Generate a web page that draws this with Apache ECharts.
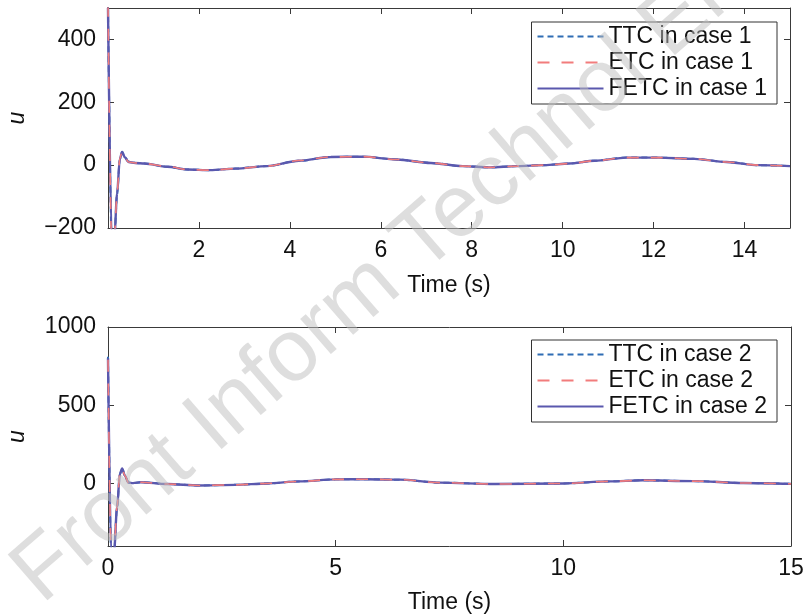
<!DOCTYPE html>
<html>
<head>
<meta charset="utf-8">
<script src="https://cdn.jsdelivr.net/npm/echarts@6/dist/echarts.min.js"></script>
<style>
  html, body { margin: 0; padding: 0; background: #fff; }
  #chart { width: 810px; height: 616px; }
</style>
</head>
<body>
<div id="chart"></div>
<script>
// Case 1: control input u over time
const time1 = [0, 0.08, 0.14, 0.2, 0.26, 0.31, 0.37, 0.45, 0.6, 0.8, 1.3, 1.75, 2.25, 2.8, 3.5, 4.2, 4.9, 5.6, 6.35, 7.1, 7.8, 8.4, 9.0, 9.6, 10.15, 10.7, 11.4, 12.1, 12.9, 13.6, 14.3, 15];
const ttc1  = [505, -235, -232, -92, 18, 43, 26, 11, 7, 5, -5, -14, -16, -11, -3, 14, 26, 27, 18, 7, -3, -7, -3, 0, 5, 14, 24, 24, 20, 10, 0, -3];
const etc1  = [510, -240, -228, -88, 21, 44, 25, 10, 7, 5, -4, -14, -16, -11, -3, 15, 26, 27, 18, 7, -3, -7, -3, 0, 5, 14, 24, 24, 20, 10, 0, -3];
const fetc1 = [500, -230, -230, -90, 20, 42, 25, 10, 7, 5, -5, -14, -16, -11, -3, 14, 26, 27, 18, 7, -3, -7, -3, 0, 5, 14, 24, 24, 20, 10, 0, -3];

// Case 2: control input u over time
const time2 = [0, 0.07, 0.13, 0.2, 0.26, 0.31, 0.37, 0.45, 0.55, 0.72, 1.3, 2.0, 2.8, 3.5, 4.2, 5.0, 5.7, 6.4, 7.3, 8.5, 10.0, 11.0, 11.75, 12.85, 13.95, 15];
const ttc2  = [810, -460, -455, -155, 58, 97, 52, 6, 2, 8, -4, -13, -9, 0, 13, 26, 27, 24, 5, -4, 0, 13, 20, 15, 3, -3];
const etc2  = [790, -455, -448, -145, 62, 98, 50, 4, 2, 8, -4, -13, -9, 0, 13, 26, 27, 24, 5, -4, 0, 13, 20, 15, 3, -3];
const fetc2 = [800, -450, -450, -150, 60, 96, 50, 5, 2, 8, -4, -13, -9, 0, 13, 26, 27, 24, 5, -4, 0, 13, 20, 15, 3, -3];

// Tick positions
const xTicks1 = [2, 4, 6, 8, 10, 12, 14];
const yTicks1 = [-200, 0, 200, 400];
const xTicks2 = [0, 5, 10, 15];
const yTicks2 = [0, 500, 1000];

// Legend entries
const names1 = ['TTC in case 1', 'ETC in case 1', 'FETC in case 1'];
const names2 = ['TTC in case 2', 'ETC in case 2', 'FETC in case 2'];

const FONT = "'Liberation Sans', Arial, Helvetica, sans-serif";
const AXIS_COLOR = '#3a3a3a';
const colors = { ttc: '#2f6db4', etc: '#f27c7c', fetc: '#5a58ae' };

const pairs = (t, v) => t.map((x, i) => [x, v[i]]);
const minus = v => String(v).replace('-', '\u2212');

function xAxisPair(grid, min, max, ticks, nameGap, labelMargin) {
  return [
    {
      type: 'value', gridIndex: grid, min, max, position: 'bottom',
      name: 'Time (s)', nameLocation: 'middle', nameGap,
      nameTextStyle: { fontFamily: FONT, fontSize: 23, color: '#111' },
      axisLine: { show: true, onZero: false, lineStyle: { color: AXIS_COLOR, width: 1 } },
      axisTick: { show: true, inside: true, length: 6, customValues: ticks, lineStyle: { color: AXIS_COLOR } },
      axisLabel: { show: true, customValues: ticks, margin: labelMargin, fontFamily: FONT, fontSize: 23, color: '#111', formatter: minus },
      splitLine: { show: false }
    },
    {
      type: 'value', gridIndex: grid, min, max, position: 'top',
      axisLine: { show: true, onZero: false, lineStyle: { color: AXIS_COLOR, width: 1 } },
      axisTick: { show: true, inside: true, length: 6, customValues: ticks, lineStyle: { color: AXIS_COLOR } },
      axisLabel: { show: false },
      splitLine: { show: false }
    }
  ];
}

function yAxisPair(grid, min, max, ticks) {
  return [
    {
      type: 'value', gridIndex: grid, min, max, position: 'left',
      name: 'u', nameLocation: 'middle', nameGap: 79, nameRotate: 90,
      nameTextStyle: { fontFamily: FONT, fontSize: 23, fontStyle: 'italic', color: '#111' },
      axisLine: { show: true, onZero: false, lineStyle: { color: AXIS_COLOR, width: 1 } },
      axisTick: { show: true, inside: true, length: 6, customValues: ticks, lineStyle: { color: AXIS_COLOR } },
      axisLabel: { show: true, customValues: ticks, margin: 12, fontFamily: FONT, fontSize: 23, color: '#111', formatter: minus },
      splitLine: { show: false }
    },
    {
      type: 'value', gridIndex: grid, min, max, position: 'right',
      axisLine: { show: true, onZero: false, lineStyle: { color: AXIS_COLOR, width: 1 } },
      axisTick: { show: true, inside: true, length: 6, customValues: ticks, lineStyle: { color: AXIS_COLOR } },
      axisLabel: { show: false },
      splitLine: { show: false }
    }
  ];
}

function lineSeries(name, data, xIdx, yIdx, color, type, width, z) {
  return {
    type: 'line', name, data, xAxisIndex: xIdx, yAxisIndex: yIdx,
    showSymbol: false, symbol: 'none', smooth: 0.3, smoothMonotone: 'x', clip: true, z,
    lineStyle: { color, width, type },
    itemStyle: { color },
    emphasis: { disabled: true }
  };
}

function legendFor(names, top) {
  return {
    data: names, orient: 'vertical', right: 33, top,
    backgroundColor: '#fff', borderColor: '#333', borderWidth: 1,
    padding: [3, 10, 4, 5], itemGap: 3, itemWidth: 66, itemHeight: 14,
    itemStyle: { opacity: 0 },
    lineStyle: { width: 2 },
    textStyle: { fontFamily: FONT, fontSize: 23, color: '#111', lineHeight: 23 },
    selectedMode: false
  };
}

const chart = echarts.init(document.getElementById('chart'), null, { renderer: 'canvas' });

chart.setOption({
  animation: false,
  backgroundColor: '#fff',
  // faint journal mark laid across both panels
  graphic: [{
    type: 'text', x: 55, y: 620, rotation: 41 * Math.PI / 180, z: 100, silent: true,
    style: { text: 'Front Inform Technol Electron Eng', fontFamily: FONT, fontSize: 88, fill: 'rgba(190,190,190,0.5)', align: 'left', verticalAlign: 'bottom' }
  }],
  grid: [
    { left: 108, right: 20, top: 8, height: 220, containLabel: false, outerBoundsMode: 'none' },
    { left: 108, right: 19, top: 327, height: 219, containLabel: false, outerBoundsMode: 'none' }
  ],
  xAxis: [
    ...xAxisPair(0, 0, 15, xTicks1, 46, 11),
    ...xAxisPair(1, 0, 15, xTicks2, 45, 11)
  ],
  yAxis: [
    ...yAxisPair(0, -200, 500, yTicks1),
    ...yAxisPair(1, -400, 1000, yTicks2)
  ],
  legend: [legendFor(names1, 22), legendFor(names2, 340)],
  series: [
    lineSeries(names1[0], pairs(time1, ttc1), 0, 0, colors.ttc, [6, 4], 2, 3),
    lineSeries(names1[2], pairs(time1, fetc1), 0, 0, colors.fetc, 'solid', 2.4, 4),
    lineSeries(names1[1], pairs(time1, etc1), 0, 0, colors.etc, [12, 12], 1.6, 5),
    lineSeries(names2[0], pairs(time2, ttc2), 2, 2, colors.ttc, [6, 4], 2, 3),
    lineSeries(names2[2], pairs(time2, fetc2), 2, 2, colors.fetc, 'solid', 2.4, 4),
    lineSeries(names2[1], pairs(time2, etc2), 2, 2, colors.etc, [12, 12], 1.6, 5)
  ]
});
</script>
</body>
</html>
